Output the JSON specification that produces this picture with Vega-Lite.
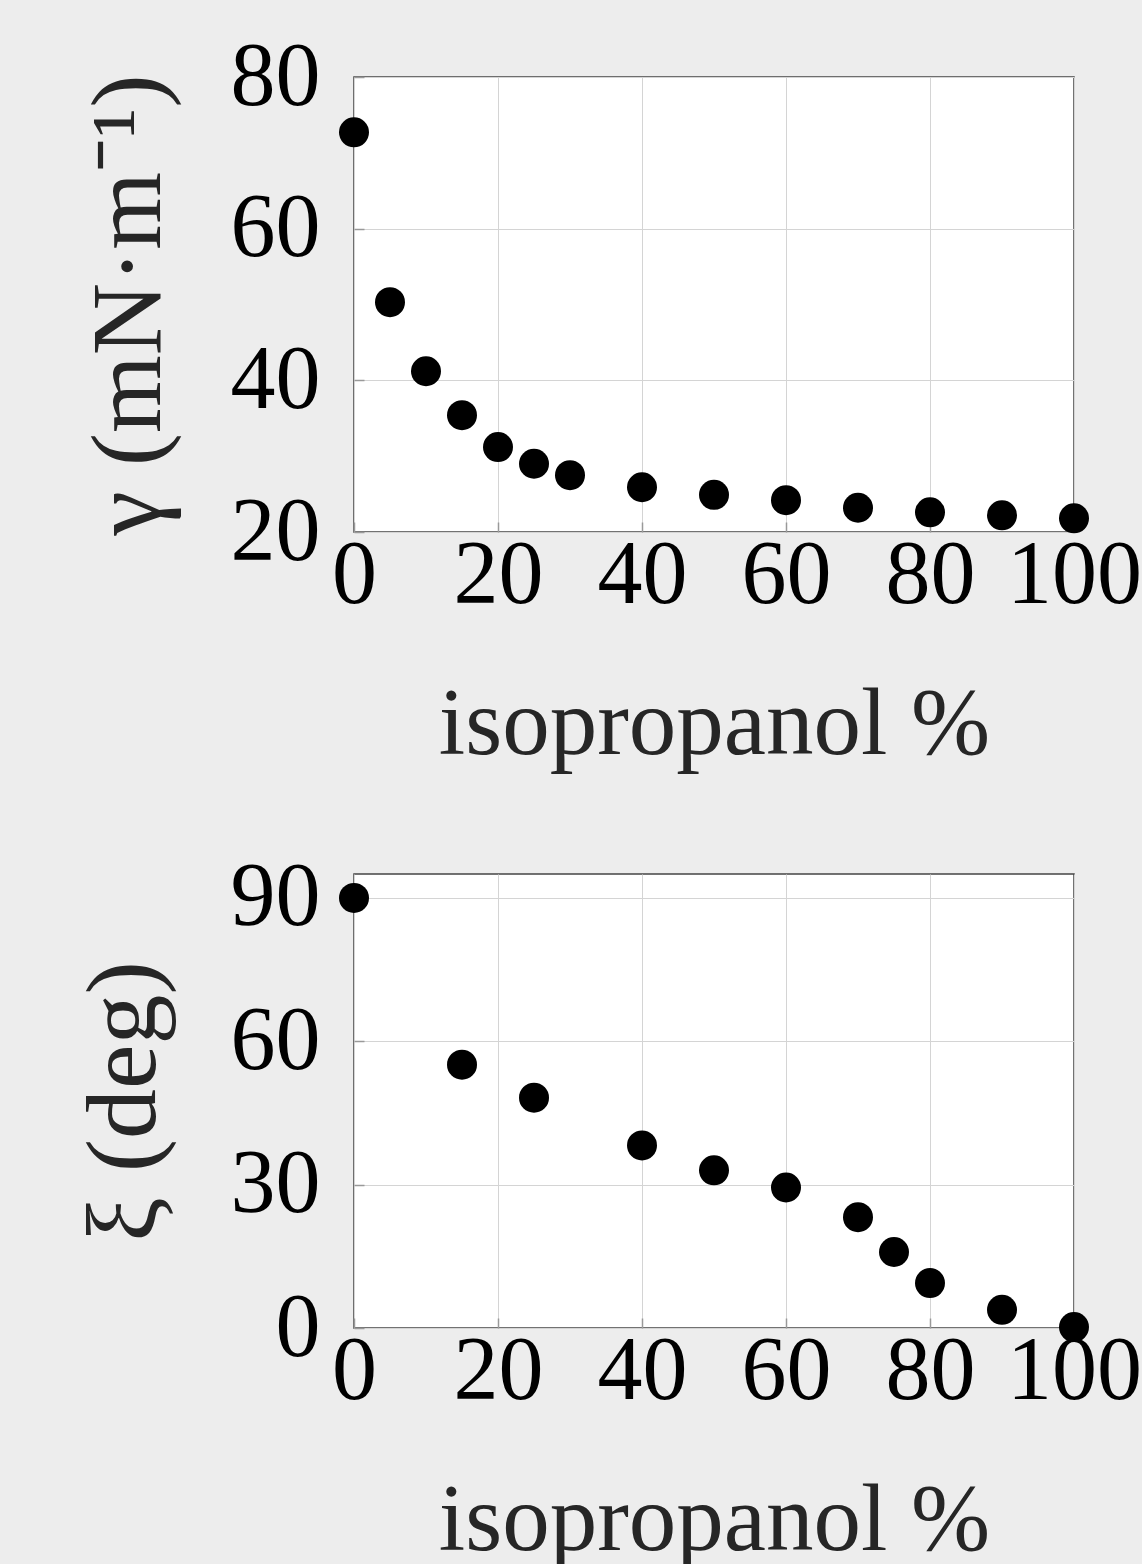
{
  "$schema": "https://vega.github.io/schema/vega-lite/v6.json",
  "background": "#ededed",
  "padding": {"left": 73, "top": 31, "right": 5, "bottom": 0},
  "spacing": 79,
  "config": {
    "font": "Liberation Serif",
    "view": {"stroke": "#444444", "strokeWidth": 1.5, "fill": "white"},
    "axis": {
      "grid": true, "gridColor": "#d4d4d4", "gridWidth": 1, "domain": false,
      "tickSize": -10, "tickColor": "#999999", "tickWidth": 1.5,
      "labelFontSize": 90, "labelColor": "black", "labelFont": "Liberation Serif",
      "labelFlush": false, "labelOverlap": false,
      "titleFontSize": 95, "titleColor": "#262626", "titleFontWeight": "normal", "titleFont": "Liberation Serif"
    }
  },
  "vconcat": [
    {
      "width": 720, "height": 455,
      "data": {"values": [
        {"pct": 0, "gamma": 72.7}, {"pct": 5, "gamma": 50.3}, {"pct": 10, "gamma": 41.2},
        {"pct": 15, "gamma": 35.4}, {"pct": 20, "gamma": 31.2}, {"pct": 25, "gamma": 29.0},
        {"pct": 30, "gamma": 27.5}, {"pct": 40, "gamma": 25.9}, {"pct": 50, "gamma": 24.9},
        {"pct": 60, "gamma": 24.2}, {"pct": 70, "gamma": 23.2}, {"pct": 80, "gamma": 22.6},
        {"pct": 90, "gamma": 22.2}, {"pct": 100, "gamma": 21.8}
      ]},
      "mark": {"type": "circle", "size": 900, "color": "black", "opacity": 1, "clip": false},
      "encoding": {
        "x": {"field": "pct", "type": "quantitative", "scale": {"domain": [0, 100], "nice": false},
              "axis": {"values": [0, 20, 40, 60, 80, 100], "title": "isopropanol %", "labelPadding": 9, "titlePadding": 58}},
        "y": {"field": "gamma", "type": "quantitative", "scale": {"domain": [20, 80], "nice": false, "zero": false},
              "axis": {"values": [20, 40, 60, 80], "title": "γ (mN·m⁻¹)", "titleFontSize": 100, "labelPadding": 44, "titlePadding": 50}}
      }
    },
    {
      "width": 720, "height": 454,
      "data": {"values": [
        {"pct": 0, "xi": 90}, {"pct": 15, "xi": 55.1}, {"pct": 25, "xi": 48.2},
        {"pct": 40, "xi": 38.2}, {"pct": 50, "xi": 33.0}, {"pct": 60, "xi": 29.4},
        {"pct": 70, "xi": 23.2}, {"pct": 75, "xi": 15.9}, {"pct": 80, "xi": 9.4},
        {"pct": 90, "xi": 3.8}, {"pct": 100, "xi": 0.2}
      ]},
      "mark": {"type": "circle", "size": 900, "color": "black", "opacity": 1, "clip": false},
      "encoding": {
        "x": {"field": "pct", "type": "quantitative", "scale": {"domain": [0, 100], "nice": false},
              "axis": {"values": [0, 20, 40, 60, 80, 100], "title": "isopropanol %", "labelPadding": 9, "titlePadding": 58}},
        "y": {"field": "xi", "type": "quantitative", "scale": {"domain": [0, 95], "nice": false},
              "axis": {"values": [0, 30, 60, 90], "title": "ξ (deg)", "titleFontSize": 100, "labelPadding": 44, "titlePadding": 55}}
      }
    }
  ]
}
